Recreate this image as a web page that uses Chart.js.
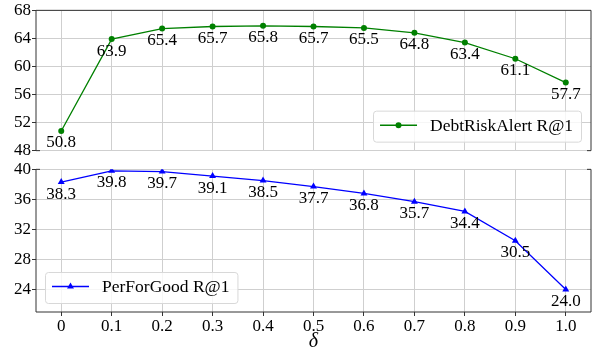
<!DOCTYPE html>
<html>
<head>
<meta charset="utf-8">
<script src="https://cdn.jsdelivr.net/npm/chart.js@4.4.0/dist/chart.umd.min.js"></script>
<style>
body { margin: 0; background: #fff; }
#wrap { position: relative; width: 595px; height: 352px; }
canvas { position: absolute; left: 0; }
#topChart { top: 0; }
#bottomChart { top: 159px; }
</style>
</head>
<body>
<div id="wrap">
  <canvas id="topChart" width="595" height="161"></canvas>
  <canvas id="bottomChart" width="595" height="193"></canvas>
</div>
<script>
const deltas = ['0', '0.1', '0.2', '0.3', '0.4', '0.5', '0.6', '0.7', '0.8', '0.9', '1.0'];
const debtRisk = [50.8, 63.9, 65.4, 65.7, 65.8, 65.7, 65.5, 64.8, 63.4, 61.1, 57.7];
const perForGood = [38.3, 39.8, 39.7, 39.1, 38.5, 37.7, 36.8, 35.7, 34.4, 30.5, 24.0];
const topTicks = [48, 52, 56, 60, 64, 68];
const bottomTicks = [24, 28, 32, 36, 40];

const FONT = 'Liberation Serif';
const GRID = '#cfcfcf';
const SPINE = '#333';

// value labels under each point
const pointLabels = {
    id: 'pointLabels',
    afterDatasetsDraw(chart) {
        const ctx = chart.ctx;
        const meta = chart.getDatasetMeta(0);
        const values = chart.data.datasets[0].data;
        ctx.save();
        ctx.font = '17px "' + FONT + '"';
        ctx.fillStyle = '#000';
        ctx.textAlign = 'center';
        ctx.textBaseline = 'middle';
        meta.data.forEach((pt, i) => {
            ctx.fillText(values[i].toFixed(1), pt.x, pt.y + 12);
        });
        ctx.restore();
    }
};

// spines + little break marks
const frame = {
    id: 'frame',
    afterDraw(chart, args, opts) {
        const ctx = chart.ctx;
        const a = chart.chartArea;
        ctx.save();
        ctx.strokeStyle = SPINE;
        ctx.lineWidth = 1;
        ctx.beginPath();
        if (opts.part === 'top') {
            ctx.moveTo(a.left + 4, a.bottom);
            ctx.lineTo(a.left, a.bottom);
            ctx.lineTo(a.left, a.top);
            ctx.lineTo(a.right, a.top);
            ctx.lineTo(a.right, a.bottom);
            ctx.lineTo(a.right - 4, a.bottom);
        } else {
            ctx.moveTo(a.left + 4, a.top);
            ctx.lineTo(a.left, a.top);
            ctx.lineTo(a.left, a.bottom);
            ctx.lineTo(a.right, a.bottom);
            ctx.lineTo(a.right, a.top);
            ctx.lineTo(a.right - 4, a.top);
        }
        ctx.stroke();
        ctx.restore();
    }
};

function drawMarker(ctx, style, x, y, r) {
    ctx.beginPath();
    if (style === 'triangle') {
        ctx.moveTo(x, y - r);
        ctx.lineTo(x + r * 0.866, y + r * 0.5);
        ctx.lineTo(x - r * 0.866, y + r * 0.5);
        ctx.closePath();
    } else {
        ctx.arc(x, y, r, 0, Math.PI * 2);
    }
    ctx.fill();
}

// legend box inside plot area
const boxLegend = {
    id: 'boxLegend',
    afterDraw(chart, args, opts) {
        const ctx = chart.ctx;
        const a = chart.chartArea;
        const ds = chart.data.datasets[0];
        ctx.save();
        ctx.font = '17.5px "' + FONT + '"';
        const tw = ctx.measureText(ds.label).width;
        const w = 7 + 37 + 13 + tw + 8;
        const h = 31;
        const x = opts.corner === 'br' ? a.right - 10 - w : a.left + 9;
        const y = a.bottom - 9 - h;
        ctx.beginPath();
        ctx.roundRect(x + 0.5, y + 0.5, w, h, 3);
        ctx.fillStyle = 'rgba(255,255,255,0.8)';
        ctx.fill();
        ctx.strokeStyle = '#d8d8d8';
        ctx.stroke();
        const ly = y + h / 2 - 1;
        ctx.strokeStyle = ds.borderColor;
        ctx.lineWidth = 1.5;
        ctx.beginPath();
        ctx.moveTo(x + 7, ly);
        ctx.lineTo(x + 44, ly);
        ctx.stroke();
        ctx.fillStyle = ds.borderColor;
        drawMarker(ctx, ds.pointStyle, x + 25.5, ly, ds.pointRadius);
        ctx.fillStyle = '#000';
        ctx.textBaseline = 'middle';
        ctx.fillText(ds.label, x + 57, ly + 1);
        ctx.restore();
    }
};

function makeChart(id, values, label, color, style, radius, yMin, yMax, ticks, part) {
    const isBottom = part === 'bottom';
    return new Chart(document.getElementById(id), {
        type: 'line',
        data: {
            labels: deltas,
            datasets: [{
                label: label,
                data: values,
                borderColor: color,
                backgroundColor: color,
                borderWidth: 1.3,
                pointStyle: style,
                pointRadius: radius,
                pointBorderWidth: 0,
                tension: 0
            }]
        },
        options: {
            responsive: false,
            animation: false,
            layout: { padding: { top: 10, right: 2, left: 0, bottom: isBottom ? 0 : 8 } },
            plugins: {
                legend: { display: false },
                tooltip: { enabled: false },
                frame: { part: part },
                boxLegend: { corner: isBottom ? 'bl' : 'br' }
            },
            scales: {
                x: {
                    type: 'category',
                    offset: true,
                    grid: { color: GRID, offset: false, drawTicks: isBottom, tickLength: 4, tickColor: SPINE },
                    border: { display: false },
                    ticks: { display: isBottom, color: '#000', padding: 1, maxRotation: 0, font: { family: FONT, size: 17, lineHeight: 1.1 } },
                    title: {
                        display: isBottom,
                        text: 'δ',
                        color: '#000',
                        font: { family: FONT, size: 20, style: 'italic', lineHeight: 1 },
                        padding: { top: 0, bottom: 0 }
                    },
                    afterFit: s => { s.height = isBottom ? 40 : 0; }
                },
                y: {
                    min: yMin,
                    max: yMax,
                    afterBuildTicks: s => { s.ticks = ticks.map(v => ({ value: v })); },
                    grid: { color: GRID, tickLength: 4, tickColor: SPINE },
                    border: { display: false },
                    ticks: { color: '#000', padding: 1, font: { family: FONT, size: 17, lineHeight: 1.1 } },
                    afterFit: s => { s.width = 36; }
                }
            }
        },
        plugins: [pointLabels, frame, boxLegend]
    });
}

makeChart('topChart', debtRisk, 'DebtRiskAlert R@1', '#008000', 'circle', 3, 48, 68, topTicks, 'top');
makeChart('bottomChart', perForGood, 'PerForGood R@1', '#0000ff', 'triangle', 4, 21, 40, bottomTicks, 'bottom');
</script>
</body>
</html>
